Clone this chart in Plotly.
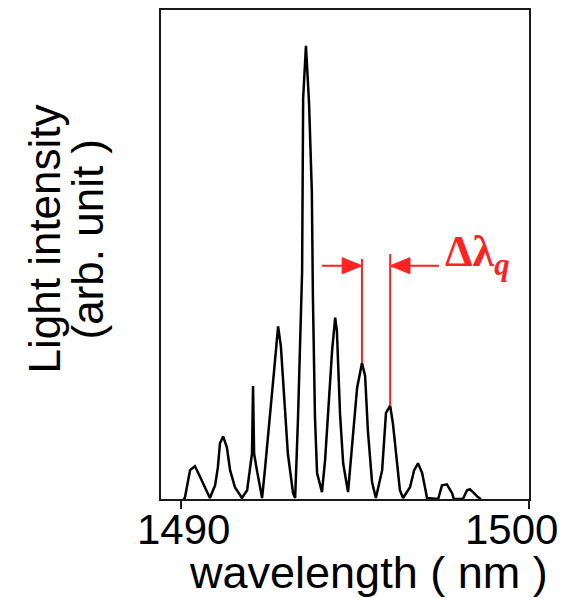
import plotly.graph_objects as go

# Spectrum (wavelength in nm, intensity in arb. units, 0-100 scale)
wavelength = [
    1490.06, 1490.11, 1490.26, 1490.40, 1490.55, 1490.69, 1490.83,
    1490.98, 1491.06, 1491.12, 1491.21, 1491.32, 1491.41, 1491.55, 1491.75,
    1491.90, 1491.98, 1492.04, 1492.07, 1492.10, 1492.18, 1492.33,
    1492.41, 1492.50, 1492.61, 1492.70, 1492.79, 1492.87, 1492.99, 1493.07, 1493.22, 1493.28,
    1493.36, 1493.48, 1493.51, 1493.59, 1493.68, 1493.76, 1493.79, 1493.85, 1493.91, 1494.05,
    1494.14, 1494.22, 1494.34, 1494.43, 1494.48, 1494.57, 1494.66, 1494.80,
    1494.94, 1495.06, 1495.14, 1495.20, 1495.29, 1495.37, 1495.49, 1495.60,
    1495.78, 1495.89, 1496.01, 1496.09, 1496.21, 1496.29, 1496.38,
    1496.58, 1496.70, 1496.81, 1496.93, 1497.07,
    1497.39, 1497.50, 1497.64, 1497.79, 1497.84,
    1498.10, 1498.22, 1498.30, 1498.42, 1498.53, 1498.62,
]
intensity = [
    0.0, 0.2, 5.9, 6.7, 4.5, 2.2, 0.2,
    2.8, 6.5, 11.4, 12.8, 10.5, 5.9, 2.4, 0.2,
    1.8, 5.9, 9.3, 23.1, 9.3, 5.9, 0.2,
    5.9, 12.6, 20.1, 28.2, 35.3, 31.2, 18.1, 9.3, 1.2, 0.2,
    16.0, 46.5, 81.9, 92.7, 80.9, 62.7, 41.4, 16.6, 5.3, 1.4,
    7.9, 17.4, 30.2, 37.1, 34.3, 17.4, 7.3, 1.4,
    13.4, 22.7, 25.6, 27.8, 25.2, 14.0, 3.4, 0.2,
    5.9, 17.6, 19.1, 15.4, 7.3, 1.8, 0.2,
    2.4, 5.9, 7.3, 5.3, 0.2,
    0.0, 2.8, 3.0, 1.2, 0.0,
    0.0, 1.8, 2.0, 1.2, 0.4, 0.0,
]

tick_values = [1490, 1500]
tick_labels = ["1490", "1500"]
x_title = "wavelength ( nm )"
y_title_lines = ["Light intensity", "(arb. unit )"]
mode_label = "<b>Δλ<sub><i>q</i></sub></b>"

RED = "#ff2222"
AXIS = "#1a1a1a"
SANS = "Liberation Sans, Arial, sans-serif"

# locate the longitudinal-mode peaks from the data
peaks = [(wavelength[i], intensity[i]) for i in range(1, len(intensity) - 1)
         if intensity[i] > intensity[i - 1] and intensity[i] > intensity[i + 1]]
pA, pB = peaks[6], peaks[7]

fig = go.Figure()
fig.add_trace(go.Scatter(x=wavelength, y=intensity, mode="lines",
                         line=dict(color="black", width=2.5), hoverinfo="skip",
                         showlegend=False))

# red marker lines from the two peaks
fig.add_shape(type="line", x0=pA[0], x1=pA[0], y0=pA[1], y1=49.1,
              line=dict(color=RED, width=2))
fig.add_shape(type="line", x0=pB[0], x1=pB[0], y0=pB[1], y1=50.1,
              line=dict(color=RED, width=2))

# arrows pointing at the two marker lines
arrow_y = 47.7
head_len = 0.57   # nm
head_half = 1.65  # intensity units
tailA, tailB = 1494.05, 1497.41
fig.add_shape(type="line", x0=tailA, x1=pA[0] - head_len, y0=arrow_y, y1=arrow_y,
              line=dict(color=RED, width=2))
fig.add_shape(type="path",
              path=f"M {pA[0]-head_len} {arrow_y-head_half} L {pA[0]} {arrow_y} "
                   f"L {pA[0]-head_len} {arrow_y+head_half} Z",
              fillcolor=RED, line=dict(color=RED, width=1))
fig.add_shape(type="line", x0=tailB, x1=pB[0] + head_len, y0=arrow_y, y1=arrow_y,
              line=dict(color=RED, width=2))
fig.add_shape(type="path",
              path=f"M {pB[0]+head_len} {arrow_y-head_half} L {pB[0]} {arrow_y} "
                   f"L {pB[0]+head_len} {arrow_y+head_half} Z",
              fillcolor=RED, line=dict(color=RED, width=1))

annotations = []
annotations.append(dict(x=1497.52, y=50.0, xref="x", yref="y", text=mode_label,
                        showarrow=False, xanchor="left", yanchor="middle",
                        font=dict(family="Liberation Serif, Times New Roman, serif",
                                  size=44, color=RED)))

# tick labels
for v, t, sh in zip(tick_values, tick_labels, [2, -18]):
    annotations.append(dict(x=v, y=0, xref="x", yref="paper", text=t, showarrow=False,
                            xanchor="center", yanchor="top", xshift=sh, yshift=-5,
                            font=dict(family=SANS, size=42, color="black")))

# x title
annotations.append(dict(x=0, y=0, xref="paper", yref="paper", text=x_title,
                        showarrow=False, xanchor="left", yanchor="top",
                        xshift=26, yshift=-46,
                        font=dict(family=SANS, size=45, color="black")))

# y title (two lines)
for txt, px in zip(y_title_lines, [44, 87]):
    annotations.append(dict(x=0, y=0.5, xref="paper", yref="paper", text=txt,
                            showarrow=False, textangle=-90, xanchor="center",
                            yanchor="middle", xshift=px - 161, yshift=15,
                            font=dict(family=SANS, size=44, color="black")))

fig.update_layout(
    width=562, height=590,
    margin=dict(l=153, r=41, t=0, b=99),
    paper_bgcolor="white", plot_bgcolor="white",
    annotations=annotations,
    xaxis=dict(range=[1489.425, 1500], showline=True, mirror=True, linecolor=AXIS,
               linewidth=2, ticks="outside", tickvals=tick_values, ticklen=8,
               tickwidth=2, tickcolor=AXIS, showticklabels=False,
               showgrid=False, zeroline=False),
    yaxis=dict(range=[0, 100], showline=True, mirror=True, linecolor=AXIS,
               linewidth=2, ticks="", showticklabels=False,
               showgrid=False, zeroline=False),
)

fig.write_html("out.html")
